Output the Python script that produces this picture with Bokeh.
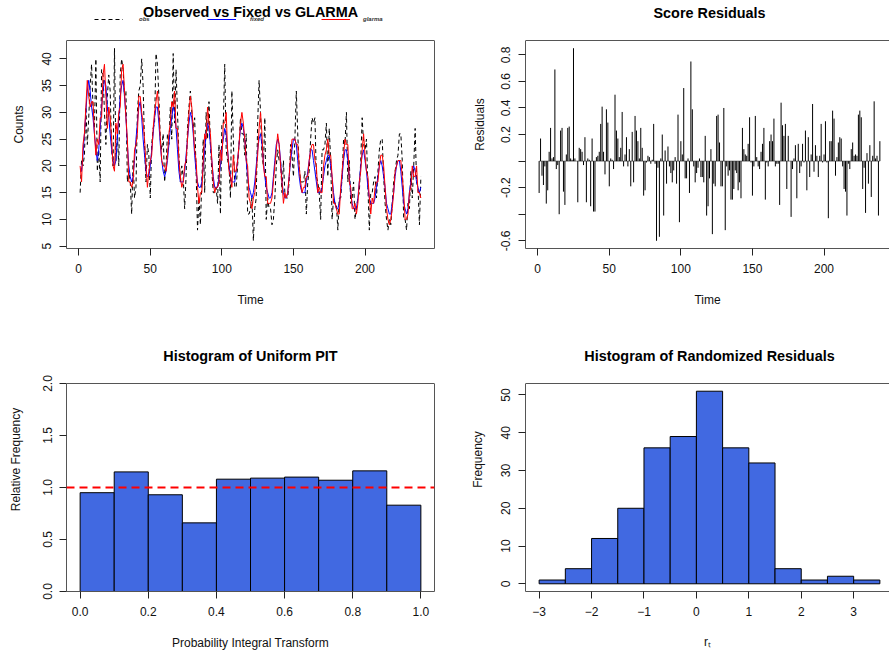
import math
from bokeh.plotting import figure
from bokeh.layouts import column, row
from bokeh.models import (Label, Span, Legend, LegendItem, FixedTicker, LinearAxis,
                          NumeralTickFormatter, Range1d)
from bokeh.embed import file_html
from bokeh.resources import INLINE

# ---------------- data ----------------
t = list(range(1, 240))

obs = [15, 21, 20, 22, 31, 24, 29, 35, 39, 31, 27, 40,
       19, 23, 17, 38, 37, 30, 24, 33, 37, 34, 23, 20,
       42, 21, 26, 20, 37, 40, 38, 33, 34, 17, 19, 17,
       11, 21, 14, 16, 30, 34, 35, 40, 35, 24, 17, 24,
       22, 14, 24, 27, 28, 41, 39, 33, 25, 23, 26, 17,
       20, 26, 24, 31, 25, 41, 28, 38, 30, 22, 17, 20,
       18, 12, 18, 27, 31, 34, 30, 27, 29, 19, 8, 14,
       9, 17, 25, 15, 30, 25, 32, 24, 19, 15, 15, 16,
       13, 24, 11, 28, 28, 39, 23, 21, 20, 14, 34, 25,
       16, 16, 20, 24, 29, 26, 26, 22, 26, 11, 11, 12,
       14, 6, 12, 14, 28, 36, 30, 22, 20, 29, 10, 14,
       12, 12, 9, 10, 14, 20, 23, 21, 21, 15, 21, 15,
       14, 14, 17, 24, 22, 18, 25, 34, 26, 20, 17, 17,
       17, 19, 11, 17, 19, 25, 29, 28, 29, 18, 17, 15,
       10, 23, 23, 24, 28, 18, 27, 21, 10, 14, 13, 13,
       8, 14, 14, 18, 25, 24, 30, 17, 21, 13, 14, 17,
       10, 12, 14, 15, 21, 29, 24, 23, 25, 16, 8, 15,
       15, 17, 18, 14, 19, 23, 25, 25, 18, 13, 10, 8,
       10, 9, 13, 17, 19, 21, 22, 26, 26, 21, 10, 10,
       8, 13, 12, 19, 14, 20, 27, 17, 16, 9, 18]

fixed = [19, 19, 22, 26, 30, 34, 36, 34, 31, 29, 26, 23,
         21, 23, 27, 31, 34, 36, 35, 31, 29, 26, 23, 21,
         20, 21, 25, 29, 33, 35, 36, 33, 29, 24, 20, 18,
         17, 18, 21, 25, 28, 31, 32, 29, 25, 22, 19, 18,
         18, 20, 23, 26, 29, 31, 31, 28, 24, 21, 19, 18,
         19, 21, 24, 27, 29, 31, 30, 27, 23, 19, 17, 17,
         17, 19, 22, 25, 28, 30, 29, 26, 22, 19, 17, 16,
         16, 17, 20, 23, 26, 28, 27, 24, 21, 18, 16, 16,
         16, 18, 20, 23, 25, 27, 26, 23, 20, 18, 17, 17,
         17, 19, 21, 24, 27, 28, 27, 25, 21, 18, 16, 15,
         14, 15, 17, 20, 23, 25, 26, 24, 21, 18, 16, 15,
         14, 14, 15, 18, 21, 24, 25, 24, 21, 17, 15, 14,
         14, 15, 18, 21, 23, 25, 25, 24, 21, 18, 16, 15,
         15, 15, 17, 19, 21, 23, 23, 21, 19, 17, 15, 15,
         15, 16, 18, 20, 21, 22, 22, 20, 18, 15, 13, 12,
         12, 13, 15, 18, 21, 23, 23, 21, 18, 15, 13, 12,
         12, 12, 14, 17, 20, 22, 23, 21, 19, 16, 14, 13,
         13, 13, 14, 16, 18, 20, 21, 20, 18, 16, 13, 12,
         11, 11, 13, 15, 18, 20, 21, 21, 19, 16, 13, 12,
         11, 12, 15, 17, 19, 20, 19, 17, 16, 15, 16]

glarma = [20, 17, 24, 26, 31, 36, 33, 31, 32, 32, 26, 22,
          25, 24, 29, 29, 37, 39, 33, 27, 31, 29, 25, 20,
          19, 28, 26, 30, 31, 38, 39, 34, 29, 25, 17, 17,
          16, 17, 23, 24, 26, 33, 33, 30, 28, 25, 20, 16,
          19, 21, 22, 27, 30, 32, 34, 30, 25, 21, 20, 20,
          19, 22, 26, 28, 32, 31, 34, 27, 27, 21, 18, 16,
          17, 20, 21, 25, 30, 33, 31, 27, 23, 21, 16, 13,
          15, 15, 21, 26, 25, 31, 28, 26, 21, 17, 15, 16,
          16, 17, 23, 21, 28, 28, 30, 23, 19, 18, 16, 22,
          19, 19, 21, 24, 28, 30, 28, 25, 21, 20, 14, 13,
          12, 14, 15, 19, 22, 27, 30, 26, 20, 18, 18, 13,
          13, 13, 14, 17, 20, 23, 26, 24, 20, 17, 13, 15,
          14, 15, 18, 22, 25, 25, 25, 24, 24, 20, 17, 15,
          16, 16, 18, 18, 21, 23, 24, 24, 21, 20, 15, 16,
          15, 15, 20, 22, 23, 25, 22, 22, 18, 13, 13, 12,
          11, 11, 16, 19, 22, 25, 24, 24, 17, 16, 12, 12,
          13, 11, 13, 17, 19, 23, 26, 22, 19, 18, 14, 11,
          14, 13, 16, 17, 17, 20, 22, 22, 20, 16, 12, 10,
          9, 10, 12, 15, 19, 20, 21, 21, 21, 18, 15, 10,
          10, 11, 15, 16, 20, 18, 18, 20, 15, 15, 14]

score_resid = [-0.24, 0.17, -0.11, -0.18, -0.04, -0.32, -0.22, 0.07, 0.25, 0.02, 0.03, 0.69,
               -0.06, -0.03, -0.40, 0.23, 0.25, -0.23, -0.33, 0.05, 0.25, 0.26, 0.02, 0.01,
               0.85, 0.02, 0.00, -0.31, 0.10, 0.09, 0.07, -0.03, 0.18, -0.31, 0.02, 0.01,
               -0.34, 0.17, -0.38, -0.38, 0.03, 0.04, 0.07, 0.28, 0.41, 0.07, -0.10, 0.39,
               0.29, -0.19, 0.02, 0.01, -0.06, 0.50, 0.23, 0.17, 0.03, 0.10, 0.37, -0.04,
               0.05, 0.18, -0.04, 0.09, -0.19, 0.22, -0.16, 0.34, 0.23, 0.15, 0.02, 0.25,
               0.10, -0.26, -0.22, -0.01, 0.04, 0.03, -0.02, 0.01, 0.28, -0.02, -0.60, -0.05,
               -0.57, 0.02, 0.20, -0.41, 0.08, -0.17, 0.11, -0.04, -0.09, -0.16, -0.07, 0.03,
               -0.17, 0.35, -0.46, 0.15, 0.05, 0.55, -0.13, -0.13, 0.02, -0.24, 0.75, 0.39,
               -0.04, -0.16, -0.09, -0.05, 0.02, -0.12, -0.12, -0.16, 0.19, -0.41, -0.34, -0.13,
               0.09, -0.55, -0.17, -0.19, 0.34, 0.35, 0.14, -0.19, -0.19, 0.40, -0.52, -0.04,
               -0.11, -0.07, -0.29, -0.29, -0.21, -0.07, -0.09, -0.22, -0.16, -0.28, 0.25, 0.09,
               0.05, 0.04, 0.13, 0.33, -0.01, -0.26, -0.04, 0.34, 0.03, -0.04, -0.06, 0.07,
               0.13, 0.25, -0.29, -0.01, -0.04, 0.15, 0.20, 0.15, 0.32, -0.04, -0.02, -0.02,
               -0.33, 0.44, 0.27, 0.19, 0.28, -0.21, 0.19, 0.00, -0.42, -0.06, 0.02, 0.12,
               -0.28, 0.13, -0.09, -0.04, 0.13, -0.01, 0.23, -0.22, 0.18, -0.12, 0.05, 0.43,
               -0.08, 0.12, 0.04, -0.12, 0.04, 0.28, -0.01, 0.05, 0.30, -0.01, -0.43, 0.15,
               0.15, 0.38, 0.32, -0.11, 0.03, 0.14, 0.18, 0.17, -0.04, -0.21, -0.23, -0.41,
               -0.02, -0.06, 0.09, 0.14, 0.04, 0.05, 0.04, 0.35, 0.38, 0.33, -0.21, -0.05,
               -0.39, 0.06, -0.17, 0.12, -0.27, 0.04, 0.45, 0.02, 0.04, -0.41, 0.15]

pit_edges = [0.0, 0.1, 0.2, 0.3, 0.4, 0.5, 0.6, 0.7, 0.8, 0.9, 1.0]
pit_density = [0.95, 1.15, 0.93, 0.66, 1.08, 1.09, 1.10, 1.07, 1.16, 0.83]

rr_edges = [-3.0, -2.5, -2.0, -1.5, -1.0, -0.5, 0.0, 0.5, 1.0, 1.5, 2.0, 2.5, 3.0, 3.5]
rr_counts = [1, 4, 12, 20, 36, 39, 51, 36, 32, 4, 1, 2, 1]

ts_xticks = [0, 50, 100, 150, 200]
counts_yticks = [5, 10, 15, 20, 25, 30, 35, 40]
resid_yticks = [-0.6, -0.4, -0.2, 0, 0.2, 0.4, 0.6, 0.8]
pit_xticks = [0.0, 0.2, 0.4, 0.6, 0.8, 1.0]
pit_yticks = [0.0, 0.5, 1.0, 1.5, 2.0]
rr_xticks = [-3, -2, -1, 0, 1, 2, 3]
rr_yticks = [0, 10, 20, 30, 40, 50]

# ---------------- style / geometry ----------------
FONT = "Liberation Sans"
BOX = "#555555"
BLUE_FILL = "#4169E1"

LEFT_W, RIGHT_W = 445, 444
TOP_H, BOT_H = 327, 326
FL_L, FL_R = 66, 80          # frame left for left / right column
FR_L = 11                    # right border for left column
BOX_W = 368                  # full width of an R plot box
BOX_H = 208                  # height of an R plot box
TOP_GAP_T, TOP_GAP_B = 40, 56   # space above the box (title zone) inside the frame
FB_T, FB_B = 79, 62             # bottom borders


def rng_ext(lo, hi):
    d = (hi - lo) * 0.04
    return lo - d, hi + d


def make_fig(w, h, fl, fr, fb, xr, box_yr, gap):
    y0, y1 = box_yr
    ytop = y1 + gap * (y1 - y0) / BOX_H
    p = figure(width=w, height=h, x_range=Range1d(*xr), y_range=Range1d(y0, ytop),
               output_backend="svg", toolbar_location=None, title=None,
               min_border_left=fl, min_border_right=fr,
               min_border_top=0, min_border_bottom=fb)
    p.grid.visible = False
    p.background_fill_color = "white"
    p.border_fill_color = "white"
    p.outline_line_color = None
    # top edge of the R box
    p.add_layout(Span(location=y1, dimension="width", line_color=BOX, line_width=1))
    return p


def style_axis(ax, ticks, vertical=False, fmt=None, overrides=None, bounds=None,
               label="", label_standoff=14):
    ax.ticker = FixedTicker(ticks=ticks)
    ax.minor_tick_line_color = None
    ax.major_tick_out = 7
    ax.major_tick_in = 0
    ax.major_tick_line_color = "#222222"
    ax.axis_line_color = BOX
    if bounds is not None:
        ax.bounds = bounds
    ax.major_label_text_font = FONT
    ax.major_label_text_font_size = "12px"
    ax.major_label_text_color = "#111111"
    ax.major_label_standoff = 8
    if vertical:
        ax.major_label_orientation = "vertical"
    if fmt is not None:
        ax.formatter = NumeralTickFormatter(format=fmt)
    if overrides:
        ax.major_label_overrides = overrides
    ax.axis_label = label
    ax.axis_label_text_font = FONT
    ax.axis_label_text_font_size = "12px"
    ax.axis_label_text_font_style = "normal"
    ax.axis_label_text_color = "#111111"
    ax.axis_label_standoff = label_standoff


def add_right_edge(p, bounds):
    ax = LinearAxis(ticker=FixedTicker(ticks=[]), major_label_text_font_size="0px",
                    major_tick_line_color=None, minor_tick_line_color=None,
                    axis_line_color=BOX, bounds=bounds)
    p.add_layout(ax, "right")


def add_title(p, frame_h, cx, fy, txt):
    p.add_layout(Label(x=cx, y=frame_h - fy, x_units="screen", y_units="screen",
                       text=txt, text_font=FONT, text_font_size="14.4px",
                       text_font_style="bold", text_align="center",
                       text_baseline="middle", text_color="black"))


# ---------------- panel 1: time series ----------------
ts_xr = rng_ext(t[0], t[-1])
ts_yr = rng_ext(min(obs), max(obs))
frame_h_top = TOP_H - FB_T
p1 = make_fig(LEFT_W, TOP_H, FL_L, FR_L, FB_T, ts_xr, ts_yr, TOP_GAP_T)
r_obs = p1.line(t, obs, line_color="black", line_width=1, line_dash="4 3")
r_fix = p1.line(t, fixed, line_color="blue", line_width=1)
r_gla = p1.line(t, glarma, line_color="red", line_width=1)
style_axis(p1.xaxis[0], ts_xticks, label="Time", label_standoff=17)
style_axis(p1.yaxis[0], counts_yticks, vertical=True, bounds=ts_yr,
           label="Counts", label_standoff=14)
add_right_edge(p1, ts_yr)
add_title(p1, frame_h_top, BOX_W / 2, 11, "Observed vs Fixed vs GLARMA")
for lab, rend, lx, sd in [("obs", r_obs, 28, 16), ("fixed", r_fix, 141, 14),
                          ("glarma", r_gla, 255, 13)]:
    lg = Legend(items=[LegendItem(label=lab, renderers=[rend])],
                location=(lx, frame_h_top - 21.5),
                orientation="horizontal", padding=0, margin=0, spacing=0,
                border_line_color=None, background_fill_alpha=0,
                glyph_width=29, glyph_height=6, label_height=6, label_width=4,
                label_standoff=sd, label_text_font=FONT, label_text_font_size="6px",
                label_text_font_style="bold italic", label_text_color="#333333",
                label_text_baseline="middle")
    p1.add_layout(lg)

# ---------------- panel 2: score residuals ----------------
px_per_unit = BOX_W / (ts_xr[1] - ts_xr[0])
frame_w_r = RIGHT_W - FL_R
rs_xr = (ts_xr[0], ts_xr[0] + frame_w_r / px_per_unit)
rs_yr = rng_ext(min(score_resid), max(score_resid))
p2 = make_fig(RIGHT_W, TOP_H, FL_R, 0, FB_T, rs_xr, rs_yr, TOP_GAP_T)
p2.segment(x0=[t[0]], y0=[0], x1=[t[-1]], y1=[0], line_color="#888888", line_width=1)
p2.segment(x0=t, y0=[0] * len(t), x1=t, y1=score_resid, line_color="black", line_width=1)
style_axis(p2.xaxis[0], ts_xticks, label="Time", label_standoff=17)
style_axis(p2.yaxis[0], resid_yticks, vertical=True, fmt="0.0", bounds=rs_yr,
           overrides={0: "", -0.4: ""}, label="Residuals", label_standoff=12)
add_title(p2, frame_h_top, BOX_W / 2, 12, "Score Residuals")

# ---------------- panel 3: PIT histogram ----------------
pit_xr = rng_ext(pit_edges[0], pit_edges[-1])
pit_yr = (pit_yticks[0], pit_yticks[-1])
frame_h_bot = BOT_H - FB_B
p3 = make_fig(LEFT_W, BOT_H, FL_L, FR_L, FB_B, pit_xr, pit_yr, TOP_GAP_B)
p3.quad(left=pit_edges[:-1], right=pit_edges[1:], bottom=0, top=pit_density,
        fill_color=BLUE_FILL, line_color="black", line_width=1)
p3.add_layout(Span(location=1.0, dimension="width", line_color="red", line_width=2,
                   line_dash="8 5"))
style_axis(p3.xaxis[0], pit_xticks, fmt="0.0", label="Probability Integral Transform",
           label_standoff=17)
style_axis(p3.yaxis[0], pit_yticks, vertical=True, fmt="0.0", bounds=pit_yr,
           label="Relative Frequency", label_standoff=17)
add_right_edge(p3, pit_yr)
add_title(p3, frame_h_bot, BOX_W / 2, 28, "Histogram of Uniform PIT")

# ---------------- panel 4: randomized residuals histogram ----------------
rr_xr_full = rng_ext(rr_edges[0], rr_edges[-1])
rr_px = BOX_W / (rr_xr_full[1] - rr_xr_full[0])
rr_xr = (rr_xr_full[0], rr_xr_full[0] + frame_w_r / rr_px)
rr_yr = rng_ext(0, max(rr_counts))
p4 = make_fig(RIGHT_W, BOT_H, FL_R, 0, FB_B, rr_xr, rr_yr, TOP_GAP_B)
p4.quad(left=rr_edges[:-1], right=rr_edges[1:], bottom=0, top=rr_counts,
        fill_color=BLUE_FILL, line_color="black", line_width=1)
style_axis(p4.xaxis[0], rr_xticks, label="r\u209c", label_standoff=16)
style_axis(p4.yaxis[0], rr_yticks, vertical=True, bounds=rr_yr,
           label="Frequency", label_standoff=14)
add_title(p4, frame_h_bot, BOX_W / 2, 28, "Histogram of Randomized Residuals")

layout = column(row(p1, p2, spacing=0), row(p3, p4, spacing=0), spacing=0)
open("out.html", "w").write(file_html(layout, INLINE))
